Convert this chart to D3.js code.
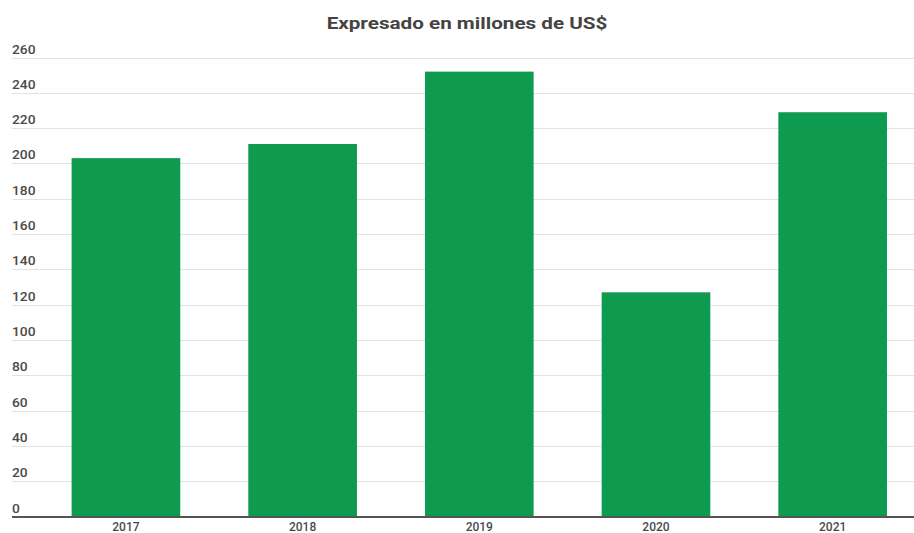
<!DOCTYPE html>
<html lang="es">
<head>
    <meta charset="UTF-8">
    <title>Expresado en millones de US$</title>
    <script src="https://cdnjs.cloudflare.com/ajax/libs/d3/7.8.5/d3.min.js"></script>
    <style>
        body { margin: 0; background: #fff; }
        text { font-family: Roboto, "Noto Sans", sans-serif; }
    </style>
</head>
<body>
<svg id="chart" width="914" height="533"></svg>
<script>
    var years = ['2017', '2018', '2019', '2020', '2021'];
    var values = [203, 211, 252, 127, 229];
    var yTicks = [0, 20, 40, 60, 80, 100, 120, 140, 160, 180, 200, 220, 240, 260];
    var title = 'Expresado en millones de US$';

    var svg = d3.select('#chart');
    var svgWidth = +svg.attr('width');

    var x = d3.scaleBand()
        .domain(years)
        .range([37.6, 921])
        .paddingInner(0.385)
        .paddingOuter(0.1925);

    var y = d3.scaleLinear()
        .domain([0, 260])
        .range([516.5, 57.5]);

    // grid lines + labels
    var grid = svg.append('g');
    grid.selectAll('line')
        .data(yTicks.filter(function (d) { return d > 0; }))
        .enter().append('line')
        .attr('x1', 12)
        .attr('x2', svgWidth)
        .attr('y1', function (d) { return Math.round(y(d)) + 0.5; })
        .attr('y2', function (d) { return Math.round(y(d)) + 0.5; })
        .attr('stroke', '#e3e3e3')
        .attr('stroke-width', 1);

    // the labels in the picture are a bit wide, so stretch them sideways
    grid.selectAll('text')
        .data(yTicks)
        .enter().append('text')
        .attr('transform', function (d) {
            return 'translate(12,' + (y(d) - 4) + ')scale(1.15,1)';
        })
        .attr('fill', '#4a4a4a')
        .attr('font-size', 12)
        .attr('font-weight', 500)
        .text(function (d) { return d; });

    // bars
    svg.append('g').selectAll('rect')
        .data(values)
        .enter().append('rect')
        .attr('x', function (d, i) { return x(years[i]); })
        .attr('width', x.bandwidth())
        .attr('y', function (d) { return y(d); })
        .attr('height', function (d) { return y(0) - y(d); })
        .attr('fill', '#0e9b50');

    // baseline
    svg.append('line')
        .attr('x1', 12)
        .attr('x2', svgWidth)
        .attr('y1', y(0) + 0.5)
        .attr('y2', y(0) + 0.5)
        .attr('stroke', '#555')
        .attr('stroke-width', 2);

    // x labels
    svg.append('g').selectAll('text')
        .data(years)
        .enter().append('text')
        .attr('x', function (d) { return x(d) + x.bandwidth() / 2; })
        .attr('y', 531)
        .attr('text-anchor', 'middle')
        .attr('fill', '#4a4a4a')
        .attr('font-size', 12)
        .attr('font-weight', 500)
        .text(function (d) { return d; });

    var titleText = svg.append('text')
        .attr('text-anchor', 'middle')
        .attr('fill', '#444')
        .attr('font-size', 16)
        .attr('font-weight', 'bold')
        .text(title);
    var tw = titleText.node().getComputedTextLength();
    titleText.attr('transform', 'translate(467,28.7)scale(' + (281 / tw) + ',1)');
</script>
</body>
</html>
